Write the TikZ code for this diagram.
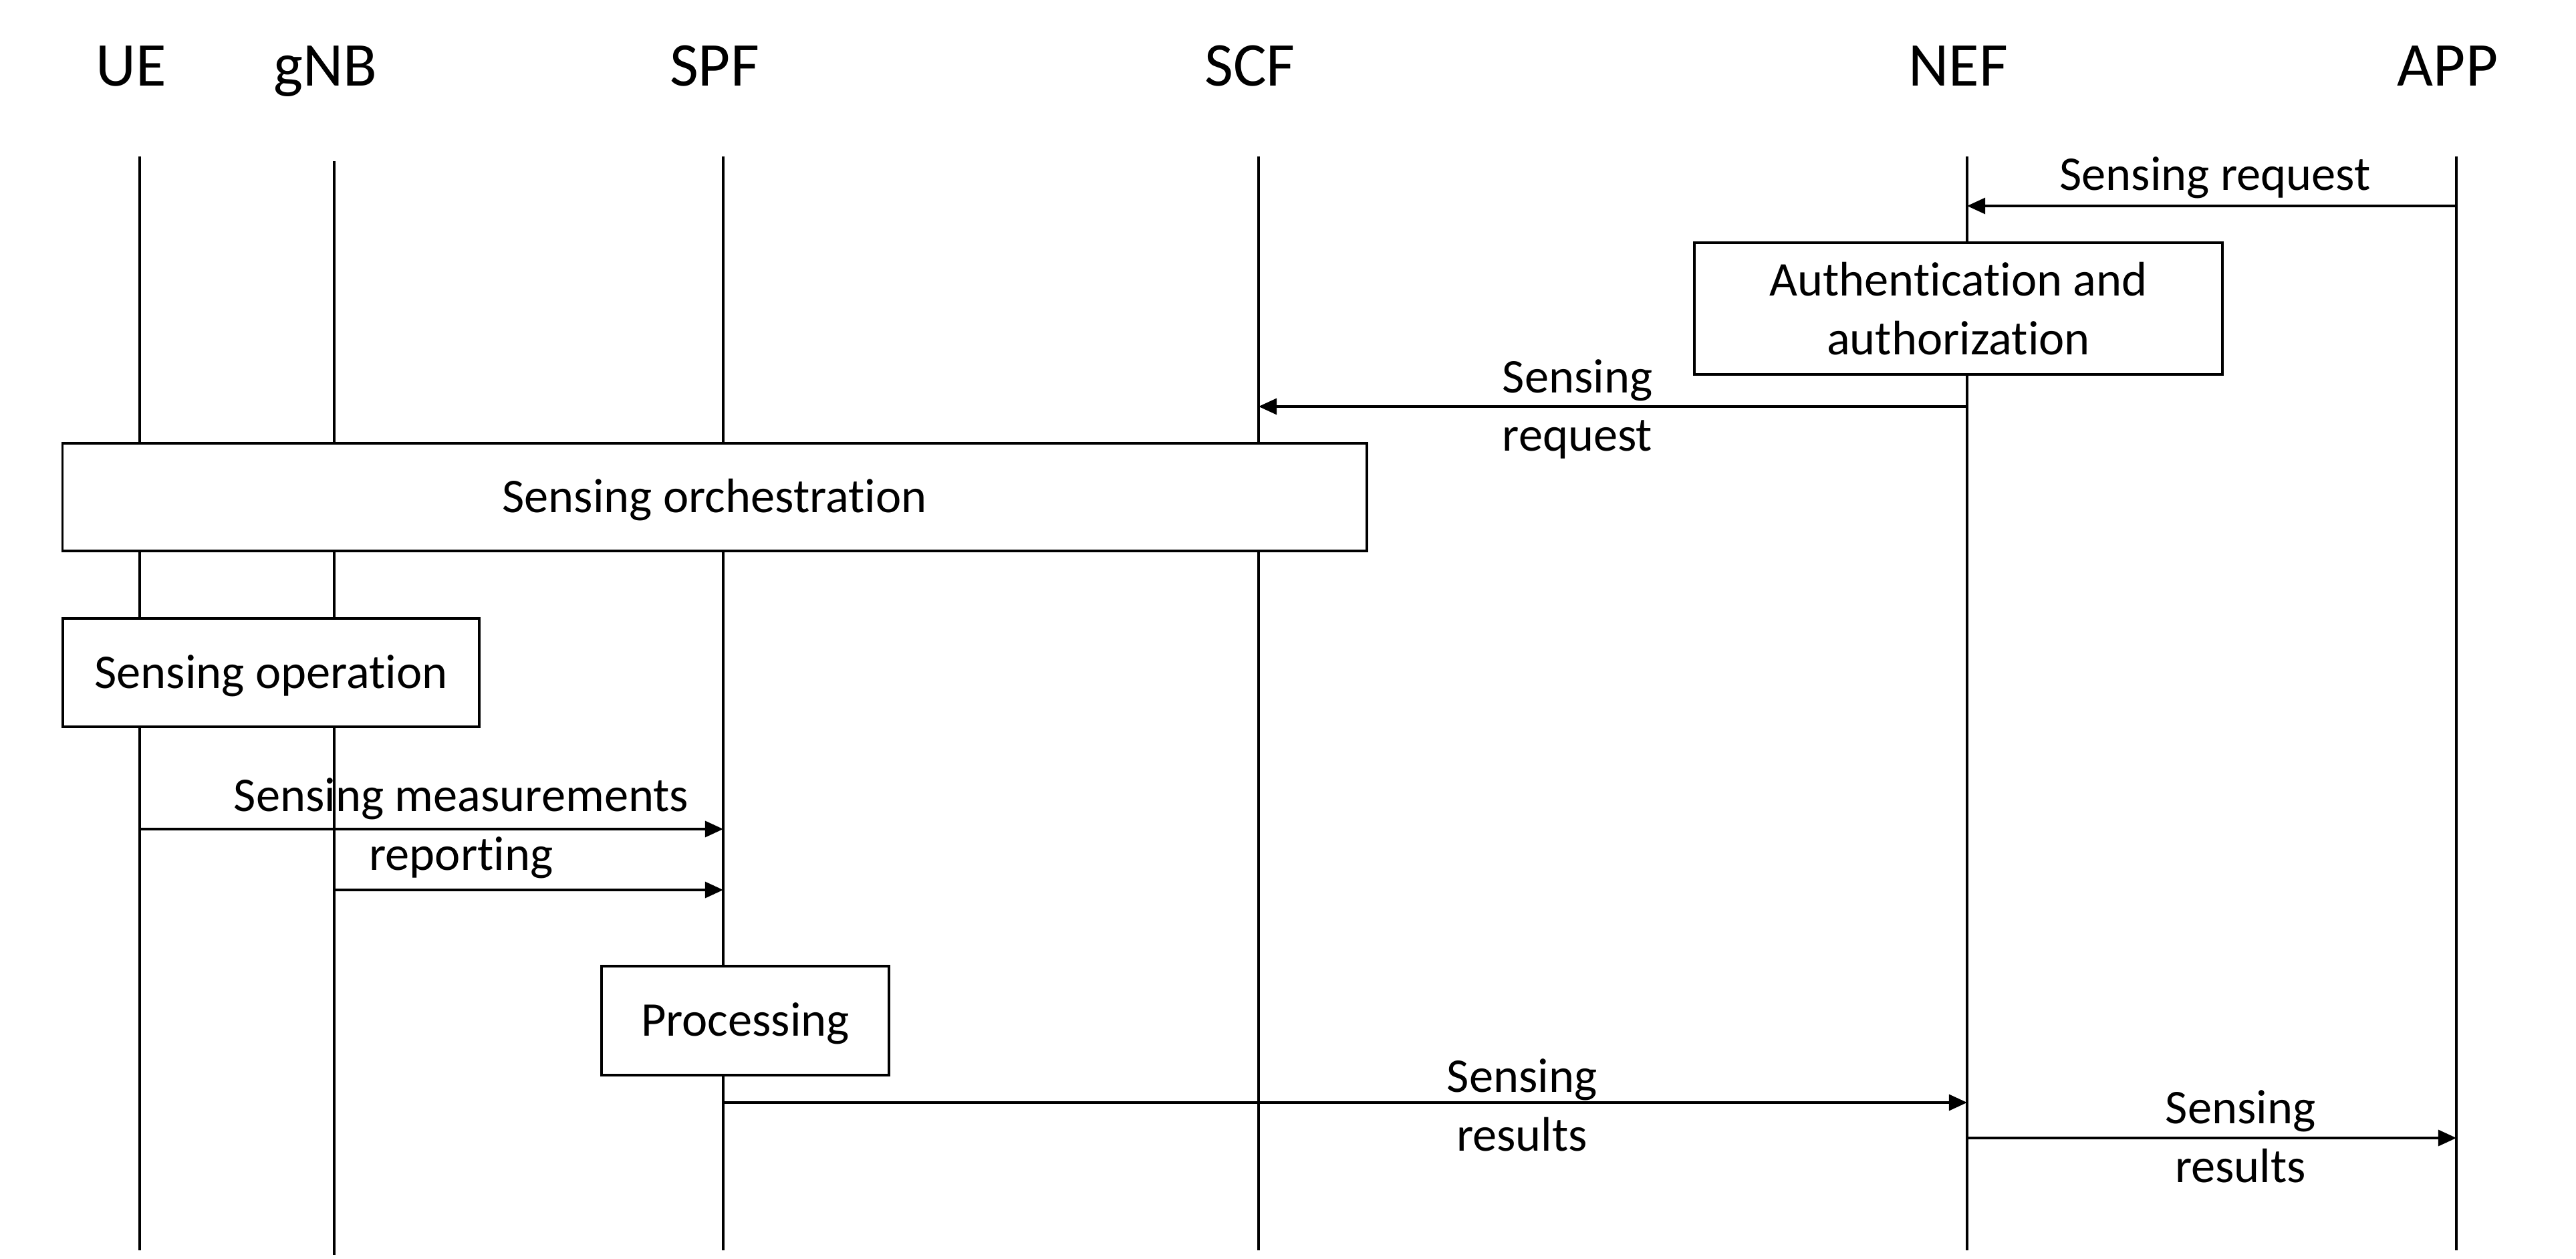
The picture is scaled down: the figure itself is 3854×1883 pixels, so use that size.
\documentclass[tikz,border=0pt]{standalone}
\usepackage{fontspec}
\setmainfont{Carlito}[Ligatures=NoCommon]
\usetikzlibrary{arrows.meta,positioning}

\begin{document}
\begin{tikzpicture}[x=0.01cm,y=-0.01cm,line width=1pt,>={Triangle[length=7.7pt,width=6.8pt]},
  head/.style={anchor=base,inner sep=0pt,font=\fontsize{26.5}{32}\selectfont},
  msg/.style={anchor=base,inner sep=0pt,align=center,font=\fontsize{20.6}{25}\selectfont},
  box/.style={draw,fill=white,line width=1.1pt,inner sep=0pt,align=center,font=\fontsize{20.6}{25}\selectfont},
  oneline/.style={text height=5.2mm,text depth=0.6mm}]
\useasboundingbox (0,0) rectangle (3854,1883);
% lifelines
\foreach \n/\t/\x/\a/\b in {ue/UE/209/234/1870,gnb/gNB/500/241/1877,spf/SPF/1082/234/1870,scf/SCF/1883/234/1870,nef/NEF/2943/234/1870,app/APP/3675/234/1870}{
  \node[head] (\n) at (\x-13,129) {\t};
  \coordinate (l\n) at (\x,\a); \coordinate (e\n) at (\x,\b);
  \draw (l\n) -- (e\n);
}
% message rows
\coordinate (m1) at (0,308); \coordinate (m2) at (0,608); \coordinate (m3) at (0,1240);
\coordinate (m4) at (0,1331); \coordinate (m5) at (0,1649); \coordinate (m6) at (0,1702);
\draw[->] (lapp |- m1) -- (lnef |- m1);
\node[msg] (t1) at (3314,285) {Sensing request};
\node[box,minimum width=7.9cm,minimum height=1.97cm] (auth) at (2930,461.5) {Authentication and\\authorization};
\draw[->] (lnef |- m2) -- (lscf |- m2);
\node[msg] (t2) at (2360,675) {Sensing\\request};
\node[box,oneline,minimum width=19.5cm,minimum height=1.61cm] (orch) at (1069,743.5) {Sensing orchestration};
\node[box,oneline,minimum width=6.23cm,minimum height=1.62cm] (oper) at (405.5,1006) {Sensing operation};
\draw[->] (lue |- m3) -- (lspf |- m3);
\draw[->] (lgnb |- m4) -- (lspf |- m4);
\node[msg] (t3) at (690,1301) {Sensing measurements\\reporting};
\node[box,oneline,minimum width=4.3cm,minimum height=1.63cm] (proc) at (1115,1526.5) {Processing};
\draw[->] (lspf |- m5) -- (lnef |- m5);
\node[msg] (t5) at (2277,1721) {Sensing\\results};
\draw[->] (lnef |- m6) -- (lapp |- m6);
\node[msg] (t6) at (3352,1768) {Sensing\\results};
\end{tikzpicture}
\end{document}
